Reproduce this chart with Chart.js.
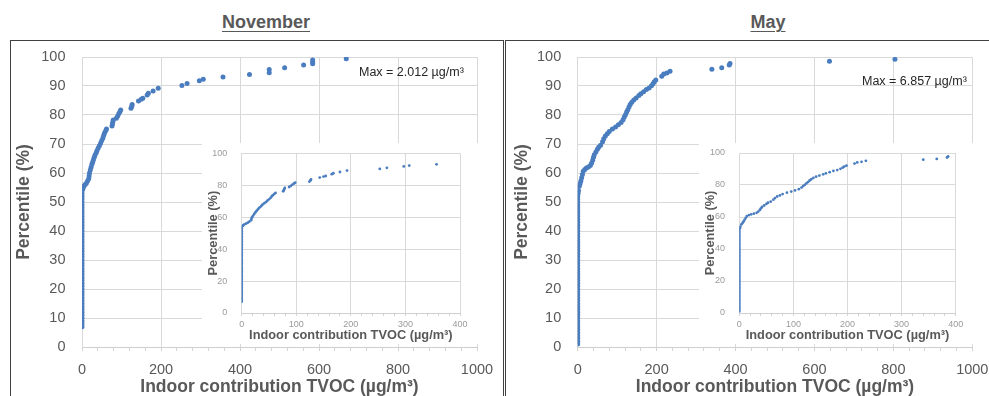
<!DOCTYPE html>
<html>
<head>
<meta charset="utf-8">
<script src="https://cdn.jsdelivr.net/npm/chart.js@4.4.1/dist/chart.umd.min.js"></script>
<style>
  html, body { margin: 0; padding: 0; background: #fff; }
  body { width: 989px; height: 396px; overflow: hidden; position: relative; font-family: 'Liberation Sans', Arial, sans-serif; }
  .month { position: absolute; top: 12px; font-size: 18px; font-weight: bold; color: #595959; text-decoration: underline; text-underline-offset: 3px; line-height: 20px; transform: translateX(-50%); white-space: nowrap; }
  .panel { position: absolute; top: 40px; height: 420px; border: 1.3px solid #404040; box-sizing: border-box; }
  canvas { position: absolute; }
  .inset { background: #fff; }
  .max { position: absolute; font-size: 12.5px; color: #262626; line-height: 14px; white-space: nowrap; }
</style>
</head>
<body>
<div class="month" style="left:266px">November</div>
<div class="month" style="left:768px">May</div>
<div class="panel" style="left:10px; width:494px"></div>
<div class="panel" style="left:505px; width:600px"></div>

<canvas id="novMain" width="492" height="360" style="left:11px; top:41px"></canvas>
<canvas id="novInset" class="inset" width="276" height="201" style="left:202px; top:143px"></canvas>
<canvas id="mayMain" width="482" height="360" style="left:507px; top:41px"></canvas>
<canvas id="mayInset" class="inset" width="276" height="201" style="left:699px; top:143px"></canvas>

<div class="max" style="left:359px; top:65px">Max = 2.012 µg/m³</div>
<div class="max" style="left:862px; top:74px">Max = 6.857 µg/m³</div>

<script>
// November: percentiles sitting on x = 0, then the rising part of the curve
const novZeroPct = [7, 8, 9, 10, 11, 12, 13, 14, 15, 16, 17, 18, 19, 20, 21, 22, 23, 24, 25, 26, 27, 28, 29, 30,
  31, 32, 33, 34, 35, 36, 37, 38, 39, 40, 41, 42, 43, 44, 45, 46, 47, 48, 49, 50, 51, 52, 53, 54];
const novCurveX = [2, 3, 5, 8, 11, 14, 17, 18, 19, 21, 23, 25, 27, 29, 31, 33, 36, 38, 41, 44, 47, 50, 53, 55, 57,
  60, 62, 76, 77, 78, 79, 87, 90, 93, 96, 98, 124, 126, 127, 143, 150, 154, 165, 168, 180, 193, 253, 266, 297, 307,
  357, 424, 474, 474, 513, 561, 584, 584, 584, 669, 2012];
const novCurveY = [54.5, 55, 55.5, 56, 56.5, 57.2, 58, 59, 60, 61, 62, 63, 63.8, 64.6, 65.4, 66.2, 67, 67.8, 68.6, 69.4,
  70.3, 71.2, 72.1, 73, 73.8, 74.6, 75.2, 76.2, 76.9, 77.6, 78.3, 78.9, 79.6, 80.4, 81.1, 81.7, 82.3, 83.0, 83.6, 84.8,
  85.4, 85.8, 86.9, 87.5, 88.3, 89.2, 90.2, 90.9, 91.8, 92.3, 93.1, 94.0, 94.6, 95.7, 96.3, 97.2, 97.7, 98.3, 99.0, 99.4, 100];

// May
const mayZeroPct = [1, 2, 3, 4, 5, 6, 7, 8, 9, 10, 11, 12, 13, 14, 15, 16, 17, 18, 19, 20, 21, 22, 23, 24, 25, 26,
  27, 28, 29, 30, 31, 32, 33, 34, 35, 36, 37, 38, 39, 40, 41, 42, 43, 44, 45, 46, 47, 48, 49, 50, 51, 52];
const mayCurveX = [1, 2, 4, 6, 8, 10, 12, 14, 18, 22, 27, 32, 35, 38, 40, 42, 46, 50, 53, 58, 63, 66, 70, 75, 80,
  88, 96, 103, 110, 115, 118, 121, 124, 127, 130, 133, 137, 142, 148, 155, 160, 167, 174, 181, 187, 191, 194, 198,
  213, 218, 226, 234, 340, 365, 384, 386, 638, 804, 6857];
const mayCurveY = [53, 54, 55.4, 56.3, 57.2, 58.4, 59.5, 60.6, 61.2, 61.7, 62.1, 62.6, 63.4, 64.4, 65.4, 66.3, 67.2,
  68.2, 68.9, 69.6, 70.8, 71.8, 72.8, 73.5, 74.3, 75.2, 75.9, 76.6, 77.4, 78.4, 79.3, 80.1, 81, 81.8, 82.8, 83.6, 84.4,
  85.2, 85.9, 86.7, 87.3, 88, 88.8, 89.3, 90.1, 90.8, 91.5, 92.1, 93.4, 94.1, 94.5, 95.1, 95.8, 96.3, 97.2, 97.8, 98.5, 99.2, 100];

const xTitle = 'Indoor contribution TVOC (µg/m³)';
const yTitle = 'Percentile (%)';
const FONT = "'Liberation Sans', Arial, sans-serif";
const DOT = '#4a7dbf';

function points(zeroPct, cx, cy) {
  const pts = zeroPct.map(p => ({ x: 0, y: p }));
  cx.forEach((v, i) => pts.push({ x: v, y: cy[i] }));
  return pts;
}

function makeChart(id, data, o) {
  const ctx = document.getElementById(id).getContext('2d');
  return new Chart(ctx, {
    type: 'scatter',
    data: {
      datasets: [{
        data: data,
        pointRadius: o.radius,
        pointBorderWidth: 0,
        pointBackgroundColor: DOT,
        borderColor: DOT,
        showLine: false
      }]
    },
    options: {
      responsive: false,
      animation: false,
      events: [],
      layout: { padding: { top: o.padTop, right: o.padRight, left: 0, bottom: 0 } },
      plugins: { legend: { display: false }, tooltip: { enabled: false } },
      scales: {
        x: {
          type: 'linear', min: 0, max: o.xMax,
          afterFit: s => { s.height = o.xHeight; },
          ticks: {
            stepSize: o.xMinor, autoSkip: false, maxRotation: 0, padding: 0,
            color: o.tickColor, font: { family: FONT, size: o.tickSize, lineHeight: o.xLabelLH },
            callback: v => (v % o.xMajor === 0 ? v : '')
          },
          grid: {
            color: c => (c.tick && c.tick.value % o.xMajor === 0 ? '#d9d9d9' : 'rgba(0,0,0,0)'),
            tickColor: '#d4d4d4', tickLength: o.tickLen
          },
          border: { color: '#cfcfcf' },
          title: {
            display: true, text: xTitle, color: '#595959',
            font: { family: FONT, size: o.titleSize, weight: 'bold', lineHeight: 1.2 },
            padding: { top: 0, bottom: o.xTitlePad }
          }
        },
        y: {
          min: 0, max: 100,
          afterFit: s => { s.width = o.yWidth; },
          ticks: {
            stepSize: o.yStep, padding: 0,
            color: o.tickColor, font: { family: FONT, size: o.tickSize }
          },
          // the tick marks are invisible, their length only sets the label gap
          grid: { color: '#d9d9d9', tickColor: 'rgba(0,0,0,0)', tickLength: o.yGap },
          border: { color: '#d9d9d9' },
          title: {
            display: true, text: yTitle, color: '#595959',
            font: { family: FONT, size: o.titleSize, weight: 'bold', lineHeight: 1.2 },
            padding: { top: o.yTitlePad, bottom: 0 }
          }
        }
      }
    }
  });
}

const mainOpts = {
  radius: 2.5, xMax: 1000, xMajor: 200, xMinor: 40, yStep: 10, tickLen: 4,
  tickSize: 14.5, tickColor: '#595959', titleSize: 17.5, xLabelLH: '38px',
  xHeight: 54, xTitlePad: 3, yGap: 16.5, padTop: 16
};
const insetOpts = {
  radius: 1.4, xMax: 400, xMajor: 100, xMinor: 20, yStep: 20, tickLen: 3,
  tickSize: 9, tickColor: '#9a9a9a', titleSize: 12.8, xLabelLH: '18px',
  xHeight: 31, xTitlePad: 1.3, yGap: 14.4, padTop: 10.3
};

const novPts = points(novZeroPct, novCurveX, novCurveY);
const mayPts = points(mayZeroPct, mayCurveX, mayCurveY);

makeChart('novMain', novPts, Object.assign({}, mainOpts, { yWidth: 71, padRight: 26, yTitlePad: 2.5 }));
makeChart('novInset', novPts, Object.assign({}, insetOpts, { yWidth: 39.7, padRight: 18, yTitlePad: 3.3 }));
makeChart('mayMain', mayPts, Object.assign({}, mainOpts, { yWidth: 70.7, padRight: 16.7, yTitlePad: 4.5 }));
makeChart('mayInset', mayPts, Object.assign({}, insetOpts, { yWidth: 40.3, padRight: 19.3, yTitlePad: 3.3, padTop: 10 }));
</script>
</body>
</html>
